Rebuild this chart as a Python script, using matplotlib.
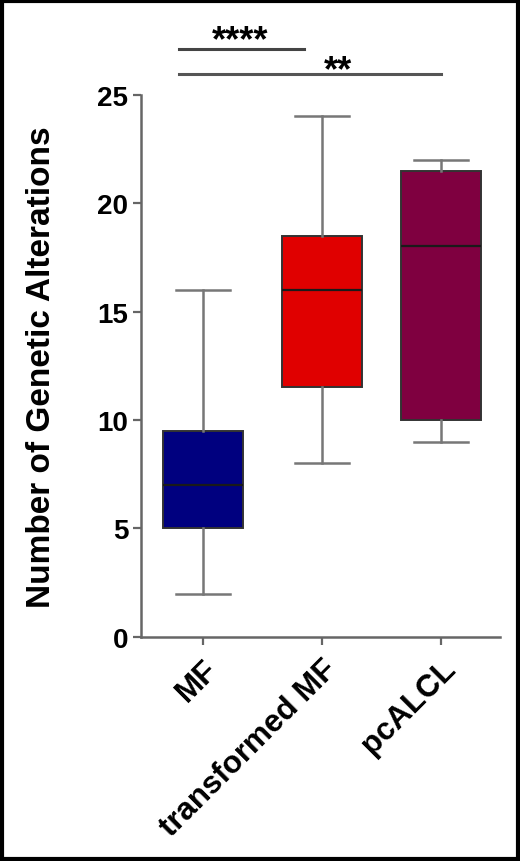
import matplotlib.pyplot as plt

plt.rcParams['font.family'] = ['Liberation Sans', 'DejaVu Sans']

groups = ['MF', 'transformed MF', 'pcALCL']
whislo = [2, 8, 9]
q1 = [5, 11.5, 10]
med = [7, 16, 18]
q3 = [9.5, 18.5, 21.5]
whishi = [16, 24, 22]
colors = ['#00007f', '#e00000', '#7f0040']

stats = []
for i in range(3):
    stats.append({'label': groups[i], 'whislo': whislo[i], 'q1': q1[i], 'med': med[i],
                  'q3': q3[i], 'whishi': whishi[i], 'fliers': []})

fig = plt.figure(figsize=(5.2, 8.62), dpi=100)
ax = fig.add_axes([0.271, 0.26, 0.691, 0.629])

edge = '#333333'
bp = ax.bxp(stats, positions=[0, 1, 2], widths=0.67, patch_artist=True, showfliers=False,
            boxprops=dict(edgecolor=edge, linewidth=1.4),
            medianprops=dict(color='#1a1a1a', linewidth=1.6),
            whiskerprops=dict(color='#777777', linewidth=1.8),
            capprops=dict(color='#777777', linewidth=1.8), capwidths=0.45)
for patch, c in zip(bp['boxes'], colors):
    patch.set_facecolor(c)

ax.set_xlim(-0.52, 2.5)
ax.set_ylim(0, 25)
ax.set_yticks([0, 5, 10, 15, 20, 25])
ax.set_xticks([0, 1, 2])
ax.set_xticklabels(groups, rotation=45, ha='right', rotation_mode='anchor',
                   fontsize=22.5, fontweight='bold')
for lab in ax.get_yticklabels():
    lab.set_fontsize(20)
    lab.set_fontweight('bold')
ax.tick_params(axis='both', direction='out', length=6, width=1.6, color='#666666')
ax.tick_params(axis='y', pad=3)
ax.tick_params(axis='x', pad=6)
ax.set_ylabel('Number of Genetic Alterations', fontsize=24, fontweight='bold')
ax.yaxis.set_label_coords(-0.233, 0.50)

for s in ['top', 'right']:
    ax.spines[s].set_visible(False)
for s in ['left', 'bottom']:
    ax.spines[s].set_color('#666666')
    ax.spines[s].set_linewidth(1.8)

# significance bars
ax.plot([-0.2, 0.85], [27.1, 27.1], color='#444444', lw=2.2, clip_on=False)
ax.text(0.31, 27.5, '****', ha='center', va='center', fontsize=26, fontweight='bold')
ax.plot([-0.2, 2.0], [25.95, 25.95], color='#555555', lw=2.2, clip_on=False)
ax.text(1.14, 26.1, '**', ha='center', va='center', fontsize=26, fontweight='bold')

# black frame around the picture
fig.patches.append(plt.Rectangle((0.003, 0.002), 0.994, 0.996, transform=fig.transFigure,
                                 fill=False, edgecolor='black', linewidth=3))

fig.savefig('out.png', dpi=100)
